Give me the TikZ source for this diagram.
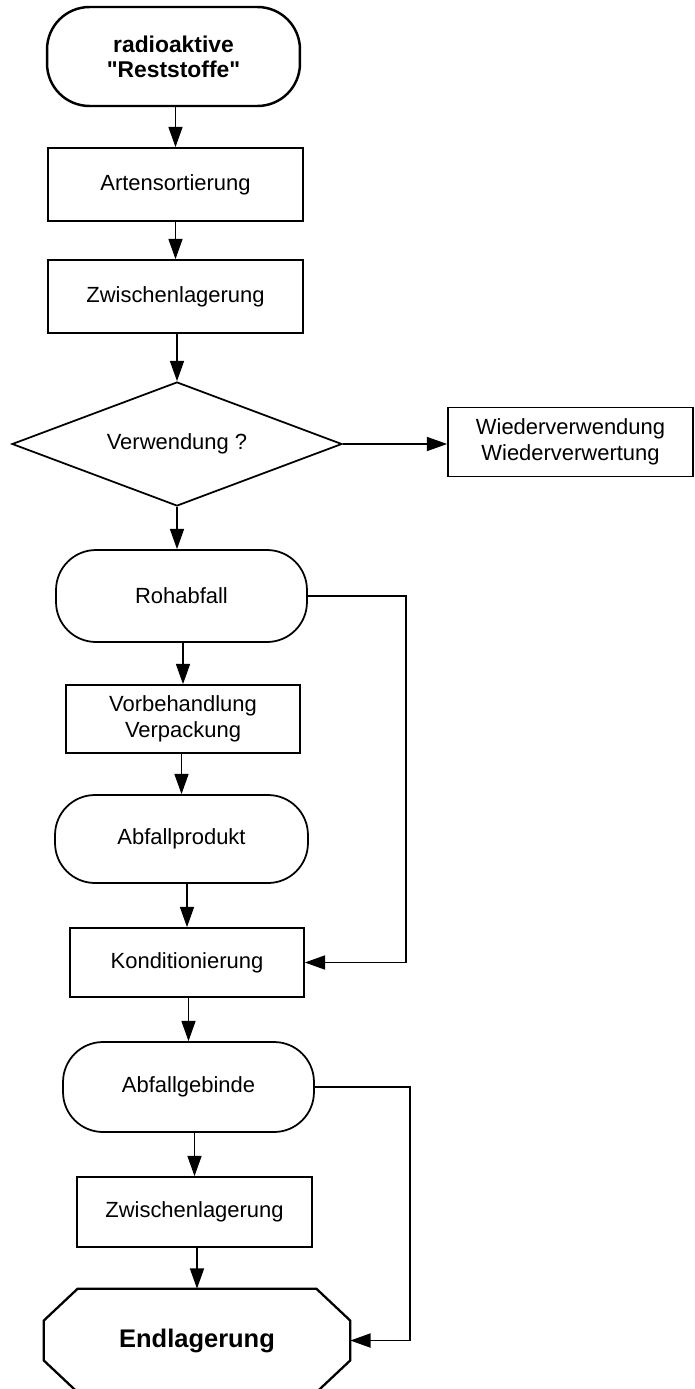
\documentclass[tikz,border=0pt]{standalone}
\usepackage{fontspec}
\setmainfont{Liberation Sans}
\usepackage{tikz}
\usetikzlibrary{calc,arrows.meta,shapes.geometric}

\begin{document}
\begin{tikzpicture}[x=0.02cm, y=-0.02cm, >={Triangle[length=11.5pt,width=8pt]},
  box/.style={draw, line width=1pt, rectangle, align=center, inner sep=0pt,
    font=\fontsize{12.5}{14.5}\selectfont},
  term/.style={box, rounded corners=#1},
  arr/.style={->, line width=0.7pt},
  back/.style={->, line width=0.9pt}]
  % page frame
  \clip (0,0) rectangle (694,1389);

  % Start
  \node[term=0.85cm, line width=1.4pt, minimum width=5.06cm, minimum height=1.98cm,
    font=\fontsize{13}{14.2}\selectfont\bfseries] (reststoffe) at (173.5,56.5)
    {radioaktive\\\textquotedbl Reststoffe\textquotedbl};

  % Sortierung und Lagerung
  \node[box, minimum width=5.1cm, minimum height=1.46cm] (sortierung) at (175.5,184.5) {Artensortierung};
  \node[box, minimum width=5.1cm, minimum height=1.46cm] (zwlager1) at (175.5,296.5) {Zwischenlagerung};

  % Entscheidung
  \node[box, diamond, rounded corners=0pt, shape aspect=2.66, minimum width=6.6cm, minimum height=2.48cm]
    (verwendung) at (177,444) {Verwendung ?};
  \node[box, minimum width=4.9cm, minimum height=1.38cm] (wieder) at (570.5,442)
    {Wiederverwendung\\Wiederverwertung};

  % Abfallweg
  \node[term=0.8cm, minimum width=5.02cm, minimum height=1.84cm] (rohabfall) at (181.5,596) {Rohabfall};
  \node[box, minimum width=4.68cm, minimum height=1.36cm] (vorbeh) at (183,719) {Vorbehandlung\\Verpackung};
  \node[term=0.8cm, minimum width=5.06cm, minimum height=1.76cm] (produkt) at (181.5,839) {Abfallprodukt};
  \node[box, minimum width=4.68cm, minimum height=1.38cm] (kond) at (187,962.5) {Konditionierung};
  \node[term=0.8cm, minimum width=5.02cm, minimum height=1.8cm] (gebinde) at (188.5,1087) {Abfallgebinde};
  \node[box, minimum width=4.7cm, minimum height=1.4cm] (zwlager2) at (194.5,1212) {Zwischenlagerung};

  % Endlager (Achteck)
  \node[minimum width=6.12cm, minimum height=2.06cm, inner sep=0pt,
    font=\fontsize{14.5}{16}\selectfont\bfseries] (endlager) at (197,1340.5) {Endlagerung};
  \draw[line width=1.3pt, line join=round]
    ($(endlager.north west)+(34,0)$) -- ($(endlager.north east)+(-34,0)$)
    -- ($(endlager.north east)+(0,32)$) -- ($(endlager.south east)+(0,-32)$)
    -- ($(endlager.south east)+(-34,0)$) -- ($(endlager.south west)+(34,0)$)
    -- ($(endlager.south west)+(0,-32)$) -- ($(endlager.north west)+(0,32)$) -- cycle;

  % Hauptfluss
  \draw[arr] (sortierung.north |- reststoffe.south) -- (sortierung.north);
  \draw[arr] (zwlager1.north |- sortierung.south) -- (zwlager1.north);
  \draw[arr] (verwendung.north |- zwlager1.south) -- (verwendung.north);
  \draw[arr] (verwendung.east) -- (verwendung.east -| wieder.west);
  \draw[arr] (verwendung.south) -- (verwendung.south |- rohabfall.north);
  \draw[arr] (vorbeh.north |- rohabfall.south) -- (vorbeh.north);
  \draw[arr] (produkt.north |- vorbeh.south) -- (produkt.north);
  \draw[arr] (kond.north |- produkt.south) -- (kond.north);
  \draw[arr] (gebinde.north |- kond.south) -- (gebinde.north);
  \draw[arr] (zwlager2.north |- gebinde.south) -- (zwlager2.north);
  \draw[arr] (endlager.north |- zwlager2.south) -- (endlager.north);

  % Umgehungen rechts
  \coordinate (rueck1) at (406,0);
  \coordinate (rueck2) at (410,0);
  \draw[back] (rohabfall.east) -- (rohabfall.east -| rueck1) -- (rueck1 |- kond.east) -- (kond.east);
  \draw[back] (gebinde.east) -- (gebinde.east -| rueck2) -- (rueck2 |- endlager.east) -- (endlager.east);
\end{tikzpicture}
\end{document}
